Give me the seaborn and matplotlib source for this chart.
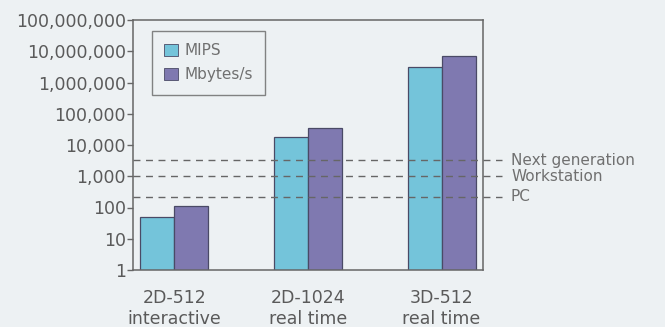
import matplotlib
matplotlib.use("Agg")
import matplotlib.pyplot as plt
import matplotlib.transforms as mtransforms
from matplotlib.ticker import FixedLocator, FixedFormatter, NullLocator
import seaborn as sns
import pandas as pd

# ---- data ----
categories = ["2D-512\ninteractive", "2D-1024\nreal time", "3D-512\nreal time"]
series_names = ["MIPS", "Mbytes/s"]
mips = [50, 18000, 3100000]
mbytes = [110, 36000, 7000000]
ref_labels = ["Next generation", "Workstation", "PC"]
ref_values = [3200, 1000, 220]
ytick_values = [1, 10, 100, 1000, 10000, 100000, 1000000, 10000000, 100000000]
ytick_labels = ["1", "10", "100", "1,000", "10,000", "100,000", "1,000,000",
                "10,000,000", "100,000,000"]

df = pd.DataFrame({
    "category": categories * 2,
    "series": [series_names[0]] * 3 + [series_names[1]] * 3,
    "value": mips + mbytes,
})

bg = "#edf1f3"
gray = "#666666"
txt = "#5a5a5a"

sns.set_theme(style="white")
plt.rcParams["font.family"] = ["DejaVu Sans"]

fig = plt.figure(figsize=(6.65, 3.27), dpi=100, facecolor=bg)
ax = fig.add_axes([133 / 665, 1 - 270 / 327, 350 / 665, 250 / 327])
ax.set_facecolor(bg)

sns.barplot(data=df, x="category", y="value", hue="series",
            palette=["#74c4da", "#7f79b0"], width=0.51, gap=0,
            edgecolor="#4a4a66", linewidth=0.9, log_scale=True, ax=ax,
            saturation=1)

ax.set_yscale("log")
ax.set_ylim(1, 1e8)
ax.set_xlim(-0.31, 2.31)
ax.yaxis.set_major_locator(FixedLocator(ytick_values))
ax.yaxis.set_major_formatter(FixedFormatter(ytick_labels))
ax.yaxis.set_minor_locator(NullLocator())
ax.tick_params(axis="y", direction="out", length=4, width=1, color=gray,
               labelsize=12.5, labelcolor=txt, pad=1, left=True)
ax.tick_params(axis="x", length=0, labelsize=12.5, labelcolor=txt, pad=14)
ax.set_xlabel("")
ax.set_ylabel("")

for s in ax.spines.values():
    s.set_color(gray)
    s.set_linewidth(1.1)
    s.set_visible(True)

# reference lines
trans = mtransforms.blended_transform_factory(ax.transAxes, ax.transData)
x_end = (502 - 133) / 350
for lab, val in zip(ref_labels, ref_values):
    ax.plot([0, x_end], [val, val], transform=trans, color=gray, lw=1.0,
            ls=(0, (5, 4)), clip_on=False, zorder=5)
    ax.text((511 - 133) / 350, val, lab, transform=trans, va="center",
            ha="left", fontsize=11, color="#707070", clip_on=False)

leg = ax.legend(loc="upper left",
                bbox_to_anchor=((152 - 133) / 350, 1 - 11 / 250),
                borderaxespad=0, frameon=True, fancybox=False, fontsize=11,
                handlelength=0.9, handleheight=0.8, handletextpad=0.4,
                borderpad=0.8, labelspacing=0.6, labelcolor="#707070")
leg.get_frame().set_edgecolor(gray)
leg.get_frame().set_facecolor(bg)
leg.get_frame().set_linewidth(1.0)
for h in leg.legend_handles:
    h.set_edgecolor("#4a4a66")
    h.set_linewidth(0.6)

fig.savefig("out.png", dpi=100, facecolor=bg)
